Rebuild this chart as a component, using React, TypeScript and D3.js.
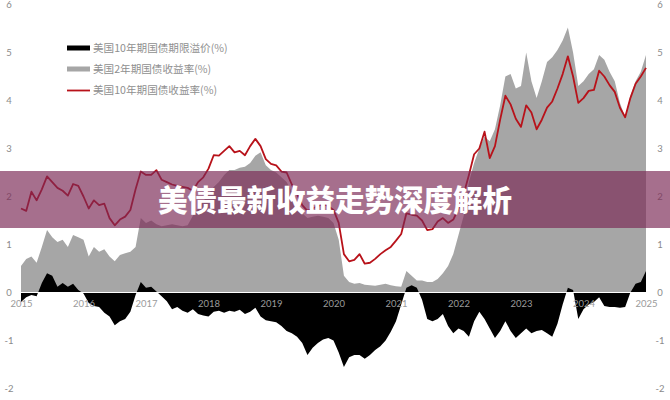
import React, { useEffect, useRef } from "react";
import * as d3 from "d3";

// monthly readings, Jan 2015 .. Jan 2025
const startYear = 2015;
const yearLabels = ["2015", "2016", "2017", "2018", "2019", "2020", "2021", "2022", "2023", "2024", "2025"];
const yTicks = [-2, -1, 0, 1, 2, 3, 4, 5, 6];

const us10y = [
  1.75, 1.70, 2.10, 1.92, 2.15, 2.42, 2.30, 2.18, 2.12, 2.02, 2.26, 2.22,
  2.00, 1.75, 1.92, 1.82, 1.85, 1.55, 1.40, 1.52, 1.58, 1.72, 2.15, 2.52,
  2.45, 2.45, 2.55, 2.35, 2.30, 2.25, 2.22, 2.20, 2.18, 2.12, 2.30, 2.40,
  2.58, 2.86, 2.85, 2.95, 3.05, 2.92, 2.95, 2.86, 3.05, 3.20, 3.05, 2.78,
  2.68, 2.65, 2.52, 2.50, 2.25, 2.05, 1.82, 1.70, 1.75, 1.80, 1.85, 1.80,
  1.72, 1.45, 0.80, 0.65, 0.68, 0.80, 0.60, 0.62, 0.70, 0.80, 0.88, 0.95,
  1.08, 1.22, 1.65, 1.62, 1.60, 1.50, 1.30, 1.32, 1.48, 1.55, 1.45, 1.52,
  1.75, 2.05, 2.45, 2.88, 3.00, 3.35, 2.80, 3.05, 3.60, 4.10, 3.92, 3.62,
  3.45, 3.90, 3.75, 3.40, 3.60, 3.85, 3.98, 4.25, 4.55, 4.92, 4.50, 3.95,
  4.05, 4.20, 4.22, 4.62, 4.50, 4.32, 4.18, 3.85, 3.65, 4.05, 4.35, 4.50,
  4.68,
];

const us2y = [
  0.55, 0.70, 0.75, 0.62, 0.95, 1.30, 1.15, 1.05, 1.10, 0.95, 1.20, 1.15,
  1.10, 0.75, 0.95, 0.85, 0.90, 0.75, 0.65, 0.78, 0.82, 0.85, 0.95, 1.55,
  1.45, 1.50, 1.42, 1.38, 1.40, 1.42, 1.40, 1.38, 1.40, 1.60, 1.75, 1.90,
  2.05, 2.20, 2.30, 2.45, 2.55, 2.55, 2.60, 2.62, 2.70, 2.85, 2.92, 2.65,
  2.55, 2.50, 2.40, 2.30, 2.10, 1.85, 1.65, 1.55, 1.58, 1.60, 1.58, 1.55,
  1.45, 1.10, 0.35, 0.22, 0.18, 0.20, 0.16, 0.15, 0.14, 0.16, 0.18, 0.15,
  0.13, 0.12, 0.45, 0.35, 0.25, 0.25, 0.22, 0.22, 0.28, 0.40, 0.55, 0.80,
  1.20, 1.60, 2.30, 2.70, 3.00, 3.25, 3.15, 3.40, 3.90, 4.50, 4.55, 4.25,
  4.30, 5.00, 4.40, 4.05, 4.40, 4.80, 4.90, 5.05, 5.25, 5.52, 5.00, 4.30,
  4.40, 4.55, 4.65, 4.95, 4.85, 4.60, 4.40, 3.95, 3.65, 4.10, 4.40, 4.60,
  4.95,
];

const termPremium = [
  -0.20, -0.10, -0.05, -0.08, 0.20, 0.40, 0.35, 0.12, 0.20, 0.12, 0.18, 0.05,
  -0.02, -0.22, -0.28, -0.30, -0.42, -0.50, -0.68, -0.60, -0.55, -0.40, -0.05, 0.22,
  0.10, 0.12, 0.02, -0.08, -0.18, -0.35, -0.30, -0.38, -0.42, -0.35, -0.45, -0.48,
  -0.50, -0.40, -0.38, -0.42, -0.38, -0.40, -0.36, -0.45, -0.40, -0.32, -0.50, -0.58,
  -0.60, -0.62, -0.70, -0.80, -0.85, -0.92, -1.05, -1.30, -1.15, -1.05, -0.98, -0.95,
  -1.00, -1.25, -1.55, -1.35, -1.30, -1.30, -1.38, -1.30, -1.20, -1.12, -1.00, -0.82,
  -0.60, -0.25, 0.10, 0.15, 0.10, -0.15, -0.55, -0.60, -0.55, -0.45, -0.70, -0.85,
  -0.75, -0.80, -0.92, -0.60, -0.40, -0.55, -0.75, -0.95, -0.80, -0.60, -0.80, -0.95,
  -0.85, -0.75, -0.85, -0.80, -0.78, -0.85, -0.92, -0.65, -0.25, 0.10, 0.05, -0.55,
  -0.35, -0.25, -0.20, -0.10, -0.28, -0.30, -0.30, -0.32, -0.30, 0.00, 0.18, 0.22,
  0.45,
];

const legendItems = [
  { label: "美国10年期国债期限溢价(%)", kind: "black" },
  { label: "美国2年期国债收益率(%)", kind: "gray" },
  { label: "美国10年期国债收益率(%)", kind: "red" },
];

const title = "美债最新收益走势深度解析";

const App: React.FC = () => {
  const svgRef = useRef<SVGSVGElement | null>(null);

  useEffect(() => {
    if (!svgRef.current) return;
    const width = 670;
    const height = 400;

    d3.select(svgRef.current).selectAll("*").remove();
    const svg = d3.select(svgRef.current).attr("width", width).attr("height", height);

    svg.append("rect").attr("width", width).attr("height", height).attr("fill", "#fff");

    const x = d3.scaleLinear().domain([2015, 2025]).range([21, 646]);
    const y = d3.scaleLinear().domain([-2, 6]).range([388.5, 4.5]);
    const t = (i: number) => startYear + i / 12;

    const area = d3.area<number>()
      .x((_, i) => x(t(i)))
      .y0(y(0))
      .y1((d) => y(d));

    svg.append("path").datum(us2y).attr("d", area).attr("fill", "#a6a6a6");
    svg.append("path").datum(termPremium).attr("d", area).attr("fill", "#000");

    svg.append("line")
      .attr("x1", x(2015)).attr("x2", x(2025) + 2)
      .attr("y1", y(0)).attr("y2", y(0))
      .attr("stroke", "#fff").attr("stroke-width", 1);

    const line = d3.line<number>()
      .x((_, i) => x(t(i)))
      .y((d) => y(d));

    svg.append("path").datum(us10y).attr("d", line)
      .attr("fill", "none").attr("stroke", "#b8121a").attr("stroke-width", 1.8)
      .attr("stroke-linejoin", "round");

    // axes labels (no lines)
    const tickFont = "Lato, 'Liberation Sans', sans-serif";
    svg.append("g").selectAll("text").data(yTicks).enter().append("text")
      .attr("x", 9).attr("y", (d) => y(d)).attr("dy", "0.35em")
      .attr("text-anchor", "middle").attr("fill", "#8a8a8a")
      .style("font-family", tickFont).style("font-size", "9.5px")
      .text((d) => String(d));
    svg.append("g").selectAll("text").data(yTicks).enter().append("text")
      .attr("x", 660).attr("y", (d) => y(d)).attr("dy", "0.35em")
      .attr("text-anchor", "middle").attr("fill", "#8a8a8a")
      .style("font-family", tickFont).style("font-size", "9.5px")
      .text((d) => String(d));
    svg.append("g").selectAll("text").data(yearLabels).enter().append("text")
      .attr("x", (d) => x(+d) + 0.5).attr("y", y(0) + 14)
      .attr("text-anchor", "middle").attr("fill", "#9a9a9a")
      .style("font-family", tickFont).style("font-size", "9.5px")
      .text((d) => d);

    // legend
    const lg = svg.append("g").attr("transform", "translate(67,48)");
    legendItems.forEach((item, i) => {
      const g = lg.append("g").attr("transform", `translate(0,${i * 21})`);
      if (item.kind === "red") {
        g.append("line").attr("x1", 0).attr("x2", 23).attr("y1", 0.5).attr("y2", 0.5)
          .attr("stroke", "#b8121a").attr("stroke-width", 1.8);
      } else {
        g.append("rect").attr("x", 0).attr("y", -2.5).attr("width", 23).attr("height", 5)
          .attr("fill", item.kind === "black" ? "#000" : "#a6a6a6");
      }
      g.append("text").attr("x", 26).attr("y", 0).attr("dy", "0.35em")
        .attr("fill", "#8f8f8f")
        .style("font-family", "'Noto Sans CJK SC', sans-serif").style("font-size", "10.6px")
        .text(item.label);
    });

    // banner
    svg.append("rect").attr("x", 0).attr("y", 171).attr("width", width).attr("height", 57)
      .attr("fill", "rgb(123,40,85)").attr("fill-opacity", 0.67);
    svg.append("text").attr("x", 335).attr("y", 200).attr("dy", "0.36em")
      .attr("text-anchor", "middle").attr("fill", "#fff")
      .style("font-family", "'Noto Sans CJK SC', sans-serif").style("font-size", "29.5px")
      .style("font-weight", 900)
      .text(title);
  }, []);

  return <svg ref={svgRef} style={{ position: "absolute", left: 0, top: 0 }}></svg>;
};

export default App;
